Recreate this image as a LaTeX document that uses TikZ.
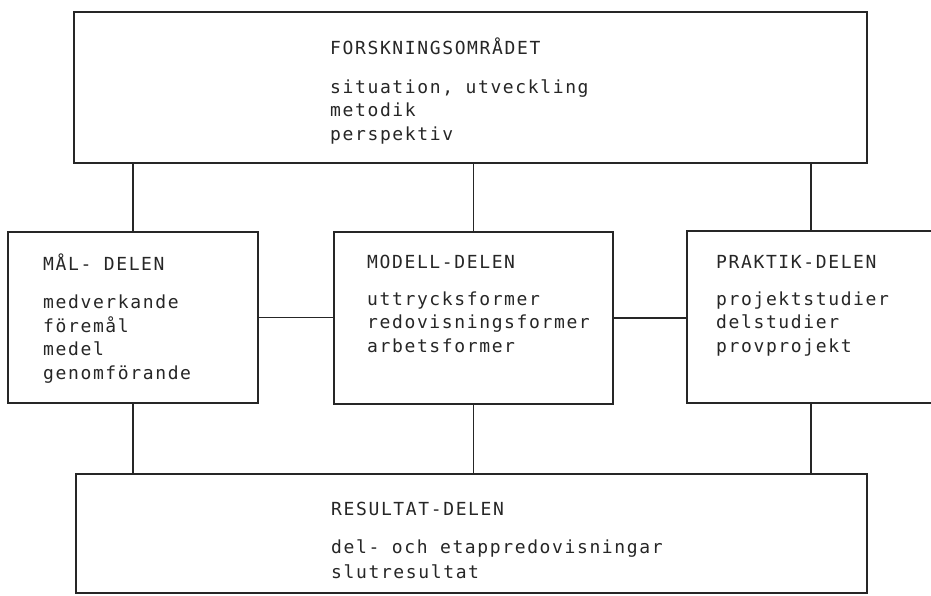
\documentclass[tikz,border=0pt]{standalone}
\usepackage{fontspec}
\newfontfamily\tw[LetterSpace=9]{DejaVu Sans Mono}
\definecolor{ink}{HTML}{262626}
\begin{document}
\begin{tikzpicture}[x=1pt,y=-1pt,
  box/.style={draw=ink, line width=2.2pt, inner sep=0pt},
  conn/.style={draw=ink, line width=1.6pt},
  txt/.style={anchor=base west, inner sep=0pt, text=ink, font=\tw\fontsize{18}{20}\selectfont}]
\clip (0,0) rectangle (931,595);
\fill[white] (0,0) rectangle (931,595);
% boxes
\node[box, minimum width=793pt, minimum height=151pt] (top) at (470.5,87.5) {};
\node[box, minimum width=250pt, minimum height=171pt] (left) at (133,317.5) {};
\node[box, minimum width=279pt, minimum height=172pt] (mid) at (473.5,318) {};
\node[box, minimum width=248pt, minimum height=172pt] (right) at (811,317) {};
\node[box, minimum width=791pt, minimum height=119pt] (bot) at (471.5,533.5) {};
% connectors
\draw[conn] (left.north) -- (left.north |- top.south);
\draw[conn] (mid.north) -- (mid.north |- top.south);
\draw[conn] (right.north) -- (right.north |- top.south);
\draw[conn] (left.south) -- (left.south |- bot.north);
\draw[conn] (mid.south) -- (mid.south |- bot.north);
\draw[conn] (right.south) -- (right.south |- bot.north);
\draw[conn] (left.east) -- (left.east -| mid.west);
\draw[conn] (mid.east) -- (mid.east -| right.west);
% texts: top
\node[txt] (t0) at (330,54) {FORSKNINGSOMRÅDET};
\node[txt] (t1) at (330,93) {situation, utveckling};
\node[txt] (t2) at (330,116) {metodik};
\node[txt] (t3) at (330,140) {perspektiv};
% left
\node[txt] (l0) at (43,270) {MÅL- DELEN};
\node[txt] (l1) at (43,308) {medverkande};
\node[txt] (l2) at (43,332) {föremål};
\node[txt] (l3) at (43,355) {medel};
\node[txt] (l4) at (43,379) {genomförande};
% middle
\node[txt] (m0) at (367,268) {MODELL-DELEN};
\node[txt] (m1) at (367,305) {uttrycksformer};
\node[txt] (m2) at (367,328) {redovisningsformer};
\node[txt] (m3) at (367,352) {arbetsformer};
% right
\node[txt] (r0) at (716,268) {PRAKTIK-DELEN};
\node[txt] (r1) at (716,305) {projektstudier};
\node[txt] (r2) at (716,328) {delstudier};
\node[txt] (r3) at (716,352) {provprojekt};
% bottom
\node[txt] (b0) at (331,515) {RESULTAT-DELEN};
\node[txt] (b1) at (331,553) {del- och etappredovisningar};
\node[txt] (b2) at (331,578) {slutresultat};
\end{tikzpicture}
\end{document}
